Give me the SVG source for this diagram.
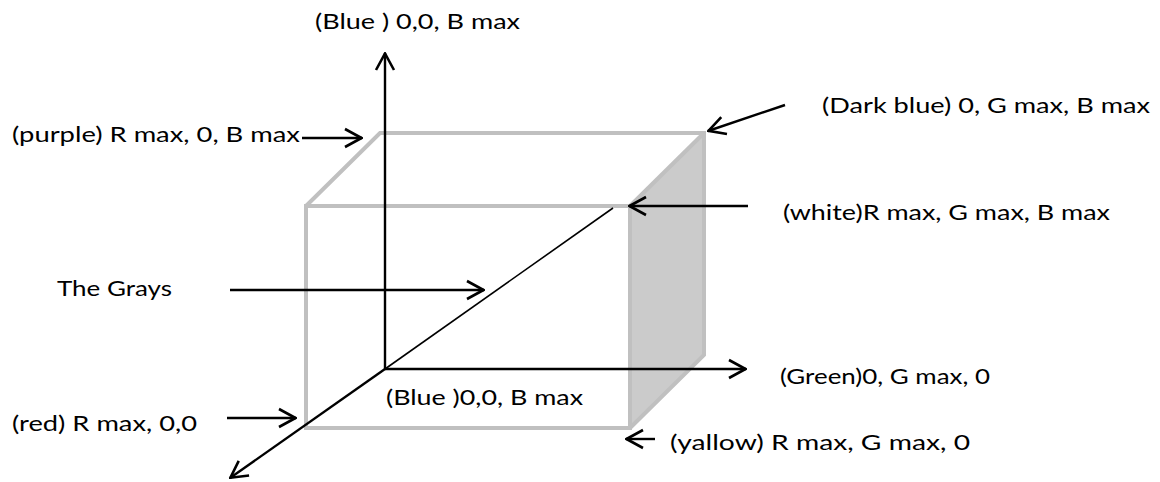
<svg xmlns="http://www.w3.org/2000/svg" width="1160" height="482" viewBox="0 0 1160 482">
<style>
  .lbl { font-family: Lato, "Open Sans", "Liberation Sans", sans-serif; font-size: 22px; fill: #000; }
  .edge { fill: none; stroke: #c0c0c0; stroke-width: 4; stroke-linejoin: miter; }
  .arr { fill: none; stroke: #000; stroke-width: 2.4; marker-end: url(#open); }
</style>
<defs>
  <marker id="open" viewBox="0 0 20 22" refX="19" refY="11" markerWidth="20" markerHeight="22" markerUnits="userSpaceOnUse" orient="auto">
    <path d="M2,2 L18.5,11 L2,20" fill="none" stroke="#000" stroke-width="2.6"/>
  </marker>
</defs>
<rect width="1160" height="482" fill="#fff"/>
<g id="cube">
  <polygon points="630,206 704,133 704,355 630,428" fill="#cbcbcb" stroke="none"/>
  <polyline class="edge" points="306,206 380,133 704,133 704,355 630,428"/>
  <polyline class="edge" points="630,206 704,133"/>
  <rect class="edge" x="306" y="206" width="324" height="222"/>
</g>
<g id="connectors">
  <line x1="385" y1="369" x2="613" y2="208" stroke="#000" stroke-width="1.6"/>
  <line class="arr" x1="385" y1="369" x2="385" y2="53"/>
  <line class="arr" x1="385" y1="369" x2="746" y2="369"/>
  <line class="arr" x1="385" y1="369" x2="230" y2="478"/>
  <line class="arr" x1="302" y1="138" x2="362" y2="138"/>
  <line class="arr" x1="785" y1="105" x2="708" y2="131"/>
  <line class="arr" x1="748" y1="206" x2="629" y2="206"/>
  <line class="arr" x1="230" y1="290" x2="484" y2="290"/>
  <line class="arr" x1="227" y1="418" x2="296" y2="418"/>
  <line class="arr" x1="655" y1="439" x2="626" y2="439"/>
</g>
<g id="label-blue-top"><text class="lbl" x="315" y="29" textLength="205" lengthAdjust="spacingAndGlyphs">(Blue ) 0,0, B max</text></g>
<g id="label-darkblue"><text class="lbl" x="822" y="113" textLength="328" lengthAdjust="spacingAndGlyphs">(Dark blue) 0, G max, B max</text></g>
<g id="label-purple"><text class="lbl" x="12" y="142" textLength="288" lengthAdjust="spacingAndGlyphs">(purple) R max, 0, B max</text></g>
<g id="label-white"><text class="lbl" x="783" y="220" textLength="327" lengthAdjust="spacingAndGlyphs">(white)R max, G max, B max</text></g>
<g id="label-grays"><text class="lbl" x="57" y="296" textLength="115" lengthAdjust="spacingAndGlyphs">The Grays</text></g>
<g id="label-green"><text class="lbl" x="780" y="384" textLength="210" lengthAdjust="spacingAndGlyphs">(Green)0, G max, 0</text></g>
<g id="label-blue-inner"><text class="lbl" x="386" y="405" textLength="197" lengthAdjust="spacingAndGlyphs">(Blue )0,0, B max</text></g>
<g id="label-red"><text class="lbl" x="12" y="431" textLength="185" lengthAdjust="spacingAndGlyphs">(red) R max, 0,0</text></g>
<g id="label-yallow"><text class="lbl" x="670" y="450" textLength="300" lengthAdjust="spacingAndGlyphs">(yallow) R max, G max, 0</text></g>
</svg>
